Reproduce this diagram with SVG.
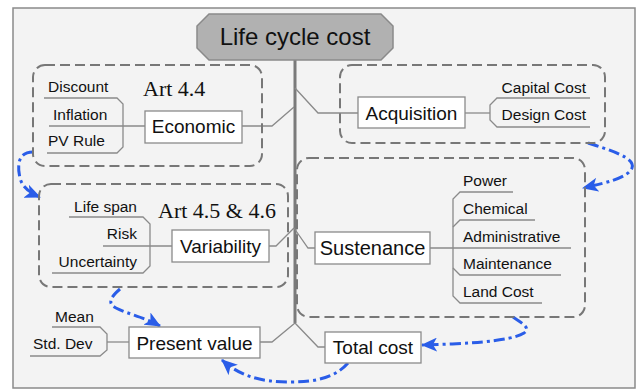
<svg xmlns="http://www.w3.org/2000/svg" width="637" height="389" viewBox="0 0 637 389">
<defs>
<style>
.grp{fill:none;stroke:#777;stroke-width:2;stroke-dasharray:10 5}
.node{fill:#fff;stroke:#8a8a8a;stroke-width:1.3}
.ln{fill:none;stroke:#8a8a8a;stroke-width:1.3}
.main{font-family:"Liberation Sans",Arial,sans-serif;font-size:19px;fill:#111;text-anchor:middle}
.lab{font-family:"Liberation Sans",Arial,sans-serif;font-size:15.5px;fill:#111}
.art{font-family:"Liberation Serif","Times New Roman",serif;font-size:22px;fill:#111}
.flow{fill:none;stroke:#2a5de8;stroke-width:3;stroke-dasharray:11 4 3 4}
</style>
<marker id="ah" markerUnits="userSpaceOnUse" markerWidth="16" markerHeight="14" refX="15" refY="7" orient="auto">
<path d="M0,0 L16,7 L0,14 L4,7 Z" fill="#2a5de8"/>
</marker>
</defs>
<rect x="0" y="0" width="637" height="389" fill="#fff"/>
<rect x="13" y="8" width="622" height="380" fill="#f3f3f3" stroke="#8a8a8a" stroke-width="1.5"/>

<g id="connectors">
<line x1="295" y1="60" x2="295" y2="323" stroke="#7a7a7a" stroke-width="3"/>
<path class="ln" d="M242,126 L272,126 L294,107"/>
<path class="ln" d="M295,88 L318,113 L358,113"/>
<path class="ln" d="M269,246 L276,246 L294,228"/>
<path class="ln" d="M294,228 L308,248 L315,248"/>
<path class="ln" d="M260,342 L272,342 L295,323"/>
<path class="ln" d="M295,323 L318,347 L325,347"/>
<path class="flow" d="M33,152 C18,152 17,165 20,178 C22,186 28,192 40,197" marker-end="url(#ah)"/>
<path class="flow" d="M120,289 C112,296 106,303 116,308 C128,314 146,318 160,326" marker-end="url(#ah)"/>
<path class="flow" d="M588,143 C610,150 636,158 632,168 C628,178 605,183 583,188" marker-end="url(#ah)"/>
<path class="flow" d="M513,317 C520,322 532,328 524,333 C510,342 460,344 422,345" marker-end="url(#ah)"/>
<path class="flow" d="M348,363 C335,378 315,382 290,382 C260,382 240,376 222,360" marker-end="url(#ah)"/>
</g>

<g id="title">
<path d="M209,14 L381,14 L393,26 L393,48 L381,60 L209,60 L197,48 L197,26 Z" fill="#b1b1b1" stroke="#8a8a8a" stroke-width="1.5"/>
<text x="295" y="45" class="main" style="font-size:24px">Life cycle cost</text>
</g>

<g id="economic">
<rect class="grp" x="33" y="65" width="229" height="101" rx="12"/>
<path class="ln" d="M44,98 L117,98 L123,104 L123,147 L117,153 L47,153"/>
<path class="ln" d="M49,126 L145,126"/>
<text class="lab" x="48" y="92">Discount</text>
<text class="lab" x="53" y="120">Inflation</text>
<text class="lab" x="48" y="146">PV Rule</text>
<text class="art" x="143" y="96">Art 4.4</text>
<rect class="node" x="145" y="111" width="97" height="32"/>
<text class="main" x="193.5" y="133">Economic</text>
</g>

<g id="acquisition">
<rect class="grp" x="340" y="65" width="265" height="78" rx="12"/>
<rect class="node" x="358" y="97" width="107" height="31"/>
<text class="main" x="411.5" y="120">Acquisition</text>
<path class="ln" d="M465,113 L490,113"/>
<path class="ln" d="M590,98 L497,98 L490,105 L490,120 L497,127 L590,127"/>
<text class="lab" x="586" y="93" text-anchor="end">Capital Cost</text>
<text class="lab" x="586" y="120" text-anchor="end">Design Cost</text>
</g>

<g id="sustenance">
<rect class="grp" x="297" y="158" width="288" height="159" rx="12"/>
<rect class="node" x="315" y="232" width="115" height="32"/>
<text class="main" x="372.5" y="255" style="font-size:20px">Sustenance</text>
<path class="ln" d="M430,248 L571,248"/>
<path class="ln" d="M513,192 L460,192 L453,199 L453,296 L460,303 L542,303"/>
<path class="ln" d="M453,227 L460,220 L535,220"/>
<path class="ln" d="M453,268 L460,275 L561,275"/>
<text class="lab" x="463" y="186">Power</text>
<text class="lab" x="463" y="214">Chemical</text>
<text class="lab" x="463" y="242">Administrative</text>
<text class="lab" x="463" y="269">Maintenance</text>
<text class="lab" x="463" y="297">Land Cost</text>
</g>

<g id="variability">
<rect class="grp" x="39" y="184" width="249" height="103" rx="12"/>
<path class="ln" d="M69,217 L143,217 L150,224 L150,266 L143,273 L52,273"/>
<path class="ln" d="M103,246 L172,246"/>
<text class="lab" x="137" y="212" text-anchor="end">Life span</text>
<text class="lab" x="137" y="239" text-anchor="end">Risk</text>
<text class="lab" x="137" y="267" text-anchor="end">Uncertainty</text>
<text class="art" x="158" y="218">Art 4.5 &amp; 4.6</text>
<rect class="node" x="172" y="230" width="97" height="32"/>
<text class="main" x="220.5" y="253">Variability</text>
</g>

<g id="present-value">
<path class="ln" d="M52,327 L100,327 L107,334 L107,350 L100,356 L30,356"/>
<path class="ln" d="M107,342 L129,342"/>
<text class="lab" x="55" y="322">Mean</text>
<text class="lab" x="33" y="349">Std. Dev</text>
<rect class="node" x="129" y="327" width="131" height="31"/>
<text class="main" x="194.5" y="350">Present value</text>
</g>

<g id="total-cost">
<rect class="node" x="325" y="332" width="96" height="31"/>
<text class="main" x="373" y="354">Total cost</text>
</g>
</svg>
